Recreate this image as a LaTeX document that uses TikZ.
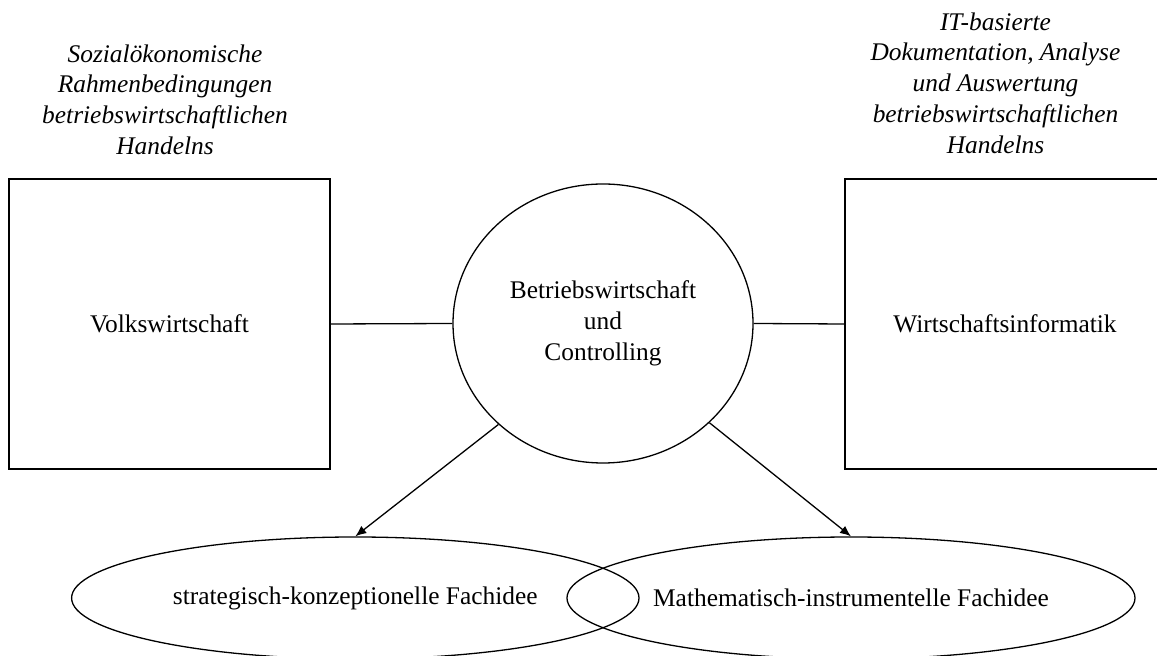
\documentclass[tikz,border=0pt]{standalone}
\usepackage{fontspec}
\setmainfont{Liberation Serif}
\usetikzlibrary{shapes.geometric,arrows.meta}
\begin{document}
\begin{tikzpicture}[x=0.5pt,y=-0.5pt,
  line width=0.65pt,
  every node/.style={font=\fontsize{12.7}{15.35}\selectfont, inner sep=0pt},
  boxnode/.style={draw, rectangle, minimum width=160.5pt, minimum height=145pt},
  ellnode/.style={draw, ellipse, align=center},
  note/.style={align=center, font=\fontsize{12.7}{15.35}\selectfont\itshape},
  arr/.style={-{Latex[length=5.5pt,width=4.5pt]}}
]
\useasboundingbox (0,0) rectangle (1157,656);
\clip (0,0) rectangle (1157,656);

\node[boxnode] (vw) at (169.5,324) {Volkswirtschaft};
\node[boxnode, minimum width=160pt] (wi) at (1005,324) {Wirtschaftsinformatik};
\node[ellnode, minimum width=150pt, minimum height=139.5pt] (bw) at (603,323.5) {Betriebswirtschaft\\und\\Controlling};
\node[ellnode, minimum width=283.7pt, minimum height=61pt] (sk) at (355.3,598) {strategisch-konzeptionelle Fachidee};
\node[ellnode, minimum width=284pt, minimum height=61pt] (mi) at (851,598) {Mathematisch-instrumentelle Fachidee};

\node[note, anchor=north] (n1) at (165,44) {Sozialökonomische\\Rahmenbedingungen\\betriebswirtschaftlichen\\Handelns};
\node[note, anchor=north] (n2) at (995.5,12) {IT-basierte\\Dokumentation, Analyse\\und Auswertung\\betriebswirtschaftlichen\\Handelns};

\draw (vw.east) -- (bw.west);
\draw (bw.east) -- (wi.west);
\draw[arr] (bw.-136.5) -- (sk.north);
\draw[arr] (bw.-43.2) -- (mi.north);
\end{tikzpicture}
\end{document}
